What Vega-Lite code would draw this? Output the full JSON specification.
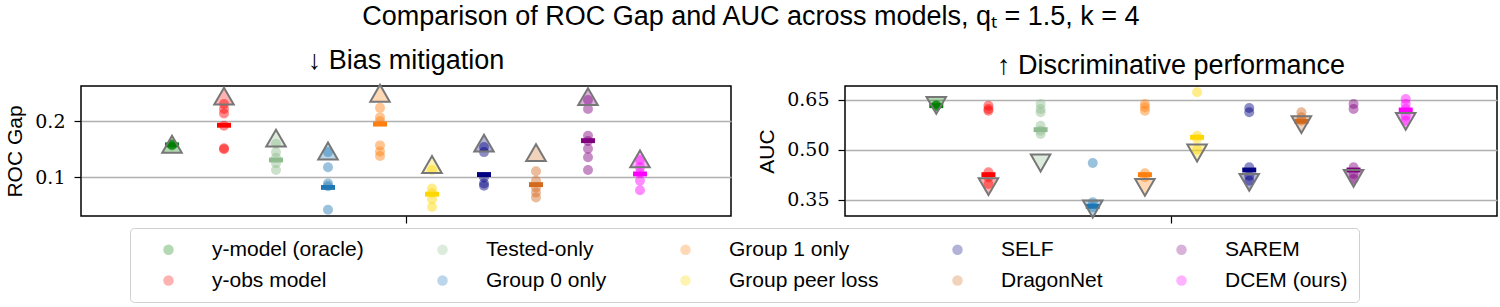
{
  "$schema": "https://vega.github.io/schema/vega-lite/v6.json",
  "background": "white",
  "padding": {"left": 4, "top": 3, "right": 0, "bottom": 0},
  "title": {"text": "Comparison of ROC Gap and AUC across models, qₜ = 1.5, k = 4", "font": "Liberation Sans", "fontSize": 27, "fontWeight": "normal", "anchor": "middle", "color": "black", "offset": 15},
  "config": {
    "view": {"stroke": "black", "strokeWidth": 1.5},
    "axis": {"labelFont": "DejaVu Serif", "labelFontSize": 19, "labelColor": "black", "titleFont": "Liberation Sans", "titleFontSize": 21, "titleFontWeight": "normal", "titleColor": "black", "gridColor": "#b0b0b0", "gridWidth": 1.3, "tickColor": "black", "domain": false},
    "axisY": {"grid": true, "ticks": true, "tickSize": 7, "tickWidth": 1.2, "labelPadding": 9, "titlePadding": 9},
    "title": {"font": "Liberation Sans", "fontSize": 27, "fontWeight": "normal", "color": "black"}
  },
  "datasets": {
    "roc": [
      {"model": "y-model (oracle)", "idx": 0, "kind": "seed", "value": 0.158},
      {"model": "y-model (oracle)", "idx": 0, "kind": "seed", "value": 0.157},
      {"model": "y-model (oracle)", "idx": 0, "kind": "seed", "value": 0.159},
      {"model": "y-model (oracle)", "idx": 0, "kind": "mean", "value": 0.158},
      {"model": "y-model (oracle)", "idx": 0, "kind": "worst", "value": 0.159},
      {"model": "y-obs model", "idx": 1, "kind": "seed", "value": 0.231},
      {"model": "y-obs model", "idx": 1, "kind": "seed", "value": 0.222},
      {"model": "y-obs model", "idx": 1, "kind": "seed", "value": 0.214},
      {"model": "y-obs model", "idx": 1, "kind": "seed", "value": 0.192},
      {"model": "y-obs model", "idx": 1, "kind": "seed", "value": 0.152},
      {"model": "y-obs model", "idx": 1, "kind": "seed", "value": 0.150},
      {"model": "y-obs model", "idx": 1, "kind": "mean", "value": 0.193},
      {"model": "y-obs model", "idx": 1, "kind": "worst", "value": 0.245},
      {"model": "Tested-only", "idx": 2, "kind": "seed", "value": 0.160},
      {"model": "Tested-only", "idx": 2, "kind": "seed", "value": 0.145},
      {"model": "Tested-only", "idx": 2, "kind": "seed", "value": 0.135},
      {"model": "Tested-only", "idx": 2, "kind": "seed", "value": 0.125},
      {"model": "Tested-only", "idx": 2, "kind": "seed", "value": 0.113},
      {"model": "Tested-only", "idx": 2, "kind": "mean", "value": 0.131},
      {"model": "Tested-only", "idx": 2, "kind": "worst", "value": 0.170},
      {"model": "Group 0 only", "idx": 3, "kind": "seed", "value": 0.145},
      {"model": "Group 0 only", "idx": 3, "kind": "seed", "value": 0.118},
      {"model": "Group 0 only", "idx": 3, "kind": "seed", "value": 0.089},
      {"model": "Group 0 only", "idx": 3, "kind": "seed", "value": 0.084},
      {"model": "Group 0 only", "idx": 3, "kind": "seed", "value": 0.042},
      {"model": "Group 0 only", "idx": 3, "kind": "mean", "value": 0.082},
      {"model": "Group 0 only", "idx": 3, "kind": "worst", "value": 0.147},
      {"model": "Group 1 only", "idx": 4, "kind": "seed", "value": 0.224},
      {"model": "Group 1 only", "idx": 4, "kind": "seed", "value": 0.207},
      {"model": "Group 1 only", "idx": 4, "kind": "seed", "value": 0.200},
      {"model": "Group 1 only", "idx": 4, "kind": "seed", "value": 0.157},
      {"model": "Group 1 only", "idx": 4, "kind": "seed", "value": 0.146},
      {"model": "Group 1 only", "idx": 4, "kind": "seed", "value": 0.138},
      {"model": "Group 1 only", "idx": 4, "kind": "mean", "value": 0.195},
      {"model": "Group 1 only", "idx": 4, "kind": "worst", "value": 0.250},
      {"model": "Group peer loss", "idx": 5, "kind": "seed", "value": 0.113},
      {"model": "Group peer loss", "idx": 5, "kind": "seed", "value": 0.080},
      {"model": "Group peer loss", "idx": 5, "kind": "seed", "value": 0.072},
      {"model": "Group peer loss", "idx": 5, "kind": "seed", "value": 0.061},
      {"model": "Group peer loss", "idx": 5, "kind": "seed", "value": 0.047},
      {"model": "Group peer loss", "idx": 5, "kind": "mean", "value": 0.070},
      {"model": "Group peer loss", "idx": 5, "kind": "worst", "value": 0.123},
      {"model": "SELF", "idx": 6, "kind": "seed", "value": 0.154},
      {"model": "SELF", "idx": 6, "kind": "seed", "value": 0.145},
      {"model": "SELF", "idx": 6, "kind": "seed", "value": 0.100},
      {"model": "SELF", "idx": 6, "kind": "seed", "value": 0.089},
      {"model": "SELF", "idx": 6, "kind": "seed", "value": 0.085},
      {"model": "SELF", "idx": 6, "kind": "mean", "value": 0.105},
      {"model": "SELF", "idx": 6, "kind": "worst", "value": 0.161},
      {"model": "DragonNet", "idx": 7, "kind": "seed", "value": 0.111},
      {"model": "DragonNet", "idx": 7, "kind": "seed", "value": 0.094},
      {"model": "DragonNet", "idx": 7, "kind": "seed", "value": 0.082},
      {"model": "DragonNet", "idx": 7, "kind": "seed", "value": 0.073},
      {"model": "DragonNet", "idx": 7, "kind": "seed", "value": 0.064},
      {"model": "DragonNet", "idx": 7, "kind": "mean", "value": 0.087},
      {"model": "DragonNet", "idx": 7, "kind": "worst", "value": 0.144},
      {"model": "SAREM", "idx": 8, "kind": "seed", "value": 0.238},
      {"model": "SAREM", "idx": 8, "kind": "seed", "value": 0.222},
      {"model": "SAREM", "idx": 8, "kind": "seed", "value": 0.174},
      {"model": "SAREM", "idx": 8, "kind": "seed", "value": 0.165},
      {"model": "SAREM", "idx": 8, "kind": "seed", "value": 0.151},
      {"model": "SAREM", "idx": 8, "kind": "seed", "value": 0.136},
      {"model": "SAREM", "idx": 8, "kind": "seed", "value": 0.113},
      {"model": "SAREM", "idx": 8, "kind": "mean", "value": 0.1655},
      {"model": "SAREM", "idx": 8, "kind": "worst", "value": 0.244},
      {"model": "DCEM (ours)", "idx": 9, "kind": "seed", "value": 0.131},
      {"model": "DCEM (ours)", "idx": 9, "kind": "seed", "value": 0.118},
      {"model": "DCEM (ours)", "idx": 9, "kind": "seed", "value": 0.108},
      {"model": "DCEM (ours)", "idx": 9, "kind": "seed", "value": 0.094},
      {"model": "DCEM (ours)", "idx": 9, "kind": "seed", "value": 0.077},
      {"model": "DCEM (ours)", "idx": 9, "kind": "mean", "value": 0.106},
      {"model": "DCEM (ours)", "idx": 9, "kind": "worst", "value": 0.133}
    ],
    "auc": [
      {"model": "y-model (oracle)", "idx": 0, "kind": "seed", "value": 0.632},
      {"model": "y-model (oracle)", "idx": 0, "kind": "seed", "value": 0.633},
      {"model": "y-model (oracle)", "idx": 0, "kind": "seed", "value": 0.631},
      {"model": "y-model (oracle)", "idx": 0, "kind": "mean", "value": 0.632},
      {"model": "y-model (oracle)", "idx": 0, "kind": "worst", "value": 0.633},
      {"model": "y-obs model", "idx": 1, "kind": "seed", "value": 0.632},
      {"model": "y-obs model", "idx": 1, "kind": "seed", "value": 0.622},
      {"model": "y-obs model", "idx": 1, "kind": "seed", "value": 0.617},
      {"model": "y-obs model", "idx": 1, "kind": "seed", "value": 0.432},
      {"model": "y-obs model", "idx": 1, "kind": "seed", "value": 0.417},
      {"model": "y-obs model", "idx": 1, "kind": "seed", "value": 0.397},
      {"model": "y-obs model", "idx": 1, "kind": "mean", "value": 0.425},
      {"model": "y-obs model", "idx": 1, "kind": "worst", "value": 0.389},
      {"model": "Tested-only", "idx": 2, "kind": "seed", "value": 0.637},
      {"model": "Tested-only", "idx": 2, "kind": "seed", "value": 0.622},
      {"model": "Tested-only", "idx": 2, "kind": "seed", "value": 0.612},
      {"model": "Tested-only", "idx": 2, "kind": "seed", "value": 0.572},
      {"model": "Tested-only", "idx": 2, "kind": "seed", "value": 0.557},
      {"model": "Tested-only", "idx": 2, "kind": "seed", "value": 0.547},
      {"model": "Tested-only", "idx": 2, "kind": "mean", "value": 0.560},
      {"model": "Tested-only", "idx": 2, "kind": "worst", "value": 0.460},
      {"model": "Group 0 only", "idx": 3, "kind": "seed", "value": 0.460},
      {"model": "Group 0 only", "idx": 3, "kind": "seed", "value": 0.342},
      {"model": "Group 0 only", "idx": 3, "kind": "seed", "value": 0.327},
      {"model": "Group 0 only", "idx": 3, "kind": "mean", "value": 0.330},
      {"model": "Group 0 only", "idx": 3, "kind": "worst", "value": 0.322},
      {"model": "Group 1 only", "idx": 4, "kind": "seed", "value": 0.637},
      {"model": "Group 1 only", "idx": 4, "kind": "seed", "value": 0.627},
      {"model": "Group 1 only", "idx": 4, "kind": "seed", "value": 0.617},
      {"model": "Group 1 only", "idx": 4, "kind": "seed", "value": 0.429},
      {"model": "Group 1 only", "idx": 4, "kind": "seed", "value": 0.417},
      {"model": "Group 1 only", "idx": 4, "kind": "mean", "value": 0.425},
      {"model": "Group 1 only", "idx": 4, "kind": "worst", "value": 0.387},
      {"model": "Group peer loss", "idx": 5, "kind": "seed", "value": 0.672},
      {"model": "Group peer loss", "idx": 5, "kind": "seed", "value": 0.542},
      {"model": "Group peer loss", "idx": 5, "kind": "seed", "value": 0.532},
      {"model": "Group peer loss", "idx": 5, "kind": "seed", "value": 0.500},
      {"model": "Group peer loss", "idx": 5, "kind": "mean", "value": 0.537},
      {"model": "Group peer loss", "idx": 5, "kind": "worst", "value": 0.490},
      {"model": "SELF", "idx": 6, "kind": "seed", "value": 0.625},
      {"model": "SELF", "idx": 6, "kind": "seed", "value": 0.612},
      {"model": "SELF", "idx": 6, "kind": "seed", "value": 0.447},
      {"model": "SELF", "idx": 6, "kind": "seed", "value": 0.422},
      {"model": "SELF", "idx": 6, "kind": "seed", "value": 0.407},
      {"model": "SELF", "idx": 6, "kind": "mean", "value": 0.439},
      {"model": "SELF", "idx": 6, "kind": "worst", "value": 0.402},
      {"model": "DragonNet", "idx": 7, "kind": "seed", "value": 0.612},
      {"model": "DragonNet", "idx": 7, "kind": "seed", "value": 0.597},
      {"model": "DragonNet", "idx": 7, "kind": "seed", "value": 0.587},
      {"model": "DragonNet", "idx": 7, "kind": "mean", "value": 0.585},
      {"model": "DragonNet", "idx": 7, "kind": "worst", "value": 0.575},
      {"model": "SAREM", "idx": 8, "kind": "seed", "value": 0.637},
      {"model": "SAREM", "idx": 8, "kind": "seed", "value": 0.622},
      {"model": "SAREM", "idx": 8, "kind": "seed", "value": 0.447},
      {"model": "SAREM", "idx": 8, "kind": "seed", "value": 0.427},
      {"model": "SAREM", "idx": 8, "kind": "seed", "value": 0.412},
      {"model": "SAREM", "idx": 8, "kind": "mean", "value": 0.439},
      {"model": "SAREM", "idx": 8, "kind": "worst", "value": 0.414},
      {"model": "DCEM (ours)", "idx": 9, "kind": "seed", "value": 0.652},
      {"model": "DCEM (ours)", "idx": 9, "kind": "seed", "value": 0.637},
      {"model": "DCEM (ours)", "idx": 9, "kind": "seed", "value": 0.622},
      {"model": "DCEM (ours)", "idx": 9, "kind": "seed", "value": 0.602},
      {"model": "DCEM (ours)", "idx": 9, "kind": "seed", "value": 0.587},
      {"model": "DCEM (ours)", "idx": 9, "kind": "mean", "value": 0.619},
      {"model": "DCEM (ours)", "idx": 9, "kind": "worst", "value": 0.585}
    ]
  },
  "spacing": 23,
  "hconcat": [
    {
      "width": 650,
      "height": 130,
      "data": {"name": "roc"},
      "title": {"text": "↓ Bias mitigation", "fontSize": 27, "offset": 6},
      "encoding": {
        "x": {"field": "idx", "type": "quantitative", "scale": {"domain": [-1.75, 10.75], "nice": false, "zero": false}, "axis": {"values": [4.5], "labels": false, "title": null, "grid": false, "ticks": true, "tickSize": 7, "tickWidth": 1.2, "domain": false}},
        "y": {"field": "value", "type": "quantitative", "scale": {"domain": [0.031, 0.263], "nice": false, "zero": false}, "axis": {"values": [0.1, 0.2], "format": ".1f", "title": "ROC Gap"}},
        "color": {
          "field": "model", "type": "nominal",
          "scale": {
            "domain": ["y-model (oracle)", "Tested-only", "Group 1 only", "SELF", "SAREM", "y-obs model", "Group 0 only", "Group peer loss", "DragonNet", "DCEM (ours)"],
            "range": ["#008000", "#8fbc8f", "#ff7f0e", "#000080", "#800080", "#ff0000", "#1f77b4", "#ffd700", "#d2691e", "#ff00ff"]
          },
          "legend": {"orient": "none", "legendX": 49, "legendY": 142, "columns": 5, "direction": "horizontal", "title": null, "symbolType": "circle", "symbolSize": 110, "symbolOpacity": 0.3, "symbolStrokeWidth": 0, "symbolOffset": 17, "labelFont": "Liberation Sans", "labelFontSize": 21, "labelColor": "black", "labelOffset": 33, "labelLimit": 0, "columnPadding": 51, "rowPadding": 9, "padding": 11, "strokeColor": "#d0d0d0", "fillColor": "white", "cornerRadius": 4}
        }
      },
      "layer": [
        {"transform": [{"filter": "datum.kind === 'seed'"}], "mark": {"type": "point", "filled": true, "shape": "circle", "size": 100, "opacity": 0.45}},
        {"transform": [{"filter": "datum.kind === 'mean'"}], "mark": {"type": "point", "filled": true, "shape": "M-1,-0.35L1,-0.35L1,0.35L-1,0.35Z", "size": 196, "opacity": 1}},
        {"transform": [{"filter": "datum.kind === 'worst'"}], "mark": {"type": "point", "filled": true, "shape": "triangle-up", "size": 380, "fillOpacity": 0.3, "stroke": "#777777", "strokeWidth": 2, "strokeOpacity": 1}}
      ]
    },
    {
      "width": 652,
      "height": 130,
      "data": {"name": "auc"},
      "title": {"text": "↑ Discriminative performance", "fontSize": 27, "offset": 6},
      "encoding": {
        "x": {"field": "idx", "type": "quantitative", "scale": {"domain": [-1.75, 10.75], "nice": false, "zero": false}, "axis": {"values": [4.5], "labels": false, "title": null, "grid": false, "ticks": true, "tickSize": 7, "tickWidth": 1.2, "domain": false}},
        "y": {"field": "value", "type": "quantitative", "scale": {"domain": [0.301, 0.691], "nice": false, "zero": false}, "axis": {"values": [0.35, 0.5, 0.65], "format": ".2f", "title": "AUC"}},
        "color": {"field": "model", "type": "nominal"}
      },
      "layer": [
        {"transform": [{"filter": "datum.kind === 'seed'"}], "mark": {"type": "point", "filled": true, "shape": "circle", "size": 100, "opacity": 0.45}},
        {"transform": [{"filter": "datum.kind === 'mean'"}], "mark": {"type": "point", "filled": true, "shape": "M-1,-0.35L1,-0.35L1,0.35L-1,0.35Z", "size": 196, "opacity": 1}},
        {"transform": [{"filter": "datum.kind === 'worst'"}], "mark": {"type": "point", "filled": true, "shape": "triangle-down", "size": 380, "fillOpacity": 0.3, "stroke": "#777777", "strokeWidth": 2, "strokeOpacity": 1}}
      ]
    }
  ]
}
